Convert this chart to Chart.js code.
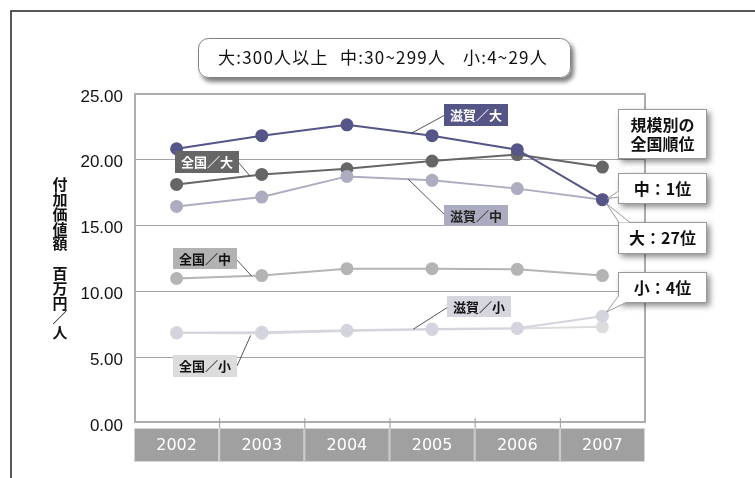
<!DOCTYPE html>
<html>
<head>
<meta charset="utf-8">
<script src="https://cdn.jsdelivr.net/npm/chart.js@4.4.0/dist/chart.umd.min.js"></script>
<style>
  html, body { margin: 0; padding: 0; background: #fff; }
  canvas { display: block; }
</style>
</head>
<body>
<canvas id="c" width="755" height="478"></canvas>
<script>
// 付加価値額（百万円／人）: 滋賀と全国、事業所規模別
const years = ['2002', '2003', '2004', '2005', '2006', '2007'];
const shigaLarge   = [20.84, 21.83, 22.66, 21.83, 20.77, 16.97];
const zenkokuLarge = [18.13, 18.89, 19.32, 19.90, 20.40, 19.45];
const shigaMid     = [16.46, 17.17, 18.74, 18.44, 17.81, 16.97];
const zenkokuMid   = [10.98, 11.20, 11.73, 11.73, 11.68, 11.20];
const shigaSmall   = [6.85, 6.90, 7.05, 7.15, 7.20, 8.12];
const zenkokuSmall = [6.85, 6.80, 7.00, 7.10, 7.18, 7.31];
const yTicks = [0, 5, 10, 15, 20, 25];

const seriesNames = ['滋賀／大', '全国／大', '滋賀／中', '全国／中', '滋賀／小', '全国／小'];
const rankTitle = ['規模別の', '全国順位'];
const rankLabels = ['中：1位', '大：27位', '小：4位'];
const sizeNotes = ['大:300人以上', '中:30~299人', '小:4~29人'];
const yTitle = '付加価値額　百万円／人';

const JP = '"Noto Sans CJK JP", "Noto Sans", sans-serif';

const colors = {
  shigaLarge: '#555588',
  zenkokuLarge: '#666666',
  shigaMid: '#adadc1',
  zenkokuMid: '#b4b4b4',
  shigaSmall: '#d4d4de',
  zenkokuSmall: '#dcdcdc'
};

function series(label, data, color) {
  return {
    label, data,
    borderColor: color, backgroundColor: color,
    pointBackgroundColor: color, pointBorderColor: color,
    borderWidth: 2, pointRadius: 5.5, pointHoverRadius: 5.5,
    tension: 0, fill: false
  };
}

// first dataset is painted on top
const datasets = [
  series(seriesNames[0], shigaLarge, colors.shigaLarge),
  series(seriesNames[2], shigaMid, colors.shigaMid),
  series(seriesNames[1], zenkokuLarge, colors.zenkokuLarge),
  series(seriesNames[3], zenkokuMid, colors.zenkokuMid),
  series(seriesNames[4], shigaSmall, colors.shigaSmall),
  series(seriesNames[5], zenkokuSmall, colors.zenkokuSmall)
];

// point on a series line between category i and i+1
function onLine(chart, data, i, t) {
  const x = chart.scales.x, y = chart.scales.y;
  const x0 = x.getPixelForValue(i), x1 = x.getPixelForValue(i + 1);
  const y0 = y.getPixelForValue(data[i]), y1 = y.getPixelForValue(data[i + 1]);
  return { x: x0 + (x1 - x0) * t, y: y0 + (y1 - y0) * t };
}
function pointAt(chart, data, i) {
  return { x: chart.scales.x.getPixelForValue(i), y: chart.scales.y.getPixelForValue(data[i]) };
}

function line(ctx, x0, y0, x1, y1, color, w) {
  ctx.save();
  ctx.strokeStyle = color; ctx.lineWidth = w;
  ctx.beginPath(); ctx.moveTo(x0, y0); ctx.lineTo(x1, y1); ctx.stroke();
  ctx.restore();
}

function tag(ctx, text, bx, by, bw, bh, bg, fg, from, to) {
  line(ctx, from.x, from.y, to.x, to.y, '#2a2a2a', 0.8);
  ctx.save();
  ctx.fillStyle = bg;
  ctx.fillRect(bx, by, bw, bh);
  ctx.fillStyle = fg;
  ctx.font = 'bold 13px ' + JP;
  ctx.textAlign = 'center';
  ctx.textBaseline = 'middle';
  ctx.fillText(text, bx + bw / 2, by + bh / 2 + 0.5);
  ctx.restore();
}

function shadowBox(ctx, x, y, w, h) {
  ctx.save();
  ctx.shadowColor = 'rgba(0,0,0,0.45)';
  ctx.shadowBlur = 6;
  ctx.shadowOffsetX = 3;
  ctx.shadowOffsetY = 3;
  ctx.fillStyle = '#fff';
  ctx.fillRect(x, y, w, h);
  ctx.restore();
  ctx.save();
  ctx.strokeStyle = '#9a9a9a';
  ctx.lineWidth = 1;
  ctx.strokeRect(x + 0.5, y + 0.5, w - 1, h - 1);
  ctx.restore();
}

function wedge(ctx, a, b, tip) {
  ctx.save();
  ctx.fillStyle = '#fff';
  ctx.beginPath();
  ctx.moveTo(a.x, a.y); ctx.lineTo(tip.x, tip.y); ctx.lineTo(b.x, b.y); ctx.closePath();
  ctx.fill();
  ctx.strokeStyle = '#9a9a9a';
  ctx.lineWidth = 1;
  ctx.beginPath();
  ctx.moveTo(a.x, a.y); ctx.lineTo(tip.x, tip.y); ctx.lineTo(b.x, b.y);
  ctx.stroke();
  ctx.restore();
}

function boxText(ctx, lines, cx, cy, size, lh) {
  ctx.save();
  ctx.fillStyle = '#111';
  ctx.font = 'bold ' + size + 'px ' + JP;
  ctx.textAlign = 'center';
  ctx.textBaseline = 'middle';
  const start = cy - (lines.length - 1) * lh / 2;
  lines.forEach((s, k) => ctx.fillText(s, cx, start + k * lh));
  ctx.restore();
}

const frame = {
  id: 'frame',
  beforeDraw(chart) {
    const ctx = chart.ctx;
    ctx.save();
    ctx.fillStyle = '#fff';
    ctx.fillRect(0, 0, chart.width, chart.height);
    ctx.restore();
  },
  beforeDatasetsDraw(chart) {
    const ctx = chart.ctx, a = chart.chartArea, x = chart.scales.x;
    const half = (x.getPixelForValue(1) - x.getPixelForValue(0)) / 2;

    // plot border
    ctx.save();
    ctx.strokeStyle = '#adadad';
    ctx.lineWidth = 2;
    ctx.strokeRect(a.left + 1, a.top, a.right - a.left - 1, a.bottom - a.top - 1);
    ctx.restore();

    // category band under the plot
    const bandTop = a.bottom + 5, bandH = 34;
    years.forEach((yr, i) => {
      const cx = x.getPixelForValue(i);
      ctx.save();
      ctx.fillStyle = '#a0a0a0';
      ctx.fillRect(cx - half, bandTop, half * 2, bandH);
      ctx.strokeStyle = '#d6d6d6';
      ctx.lineWidth = 1;
      ctx.strokeRect(cx - half + 0.5, bandTop + 0.5, half * 2 - 1, bandH - 1);
      ctx.fillStyle = '#fff';
      ctx.font = '16px "DejaVu Sans", sans-serif';
      ctx.textAlign = 'center';
      ctx.textBaseline = 'middle';
      ctx.fillText(yr, cx, bandTop + bandH / 2 + 1);
      ctx.restore();
      if (i > 0) line(ctx, cx - half + 0.5, a.bottom - 5, cx - half + 0.5, bandTop, '#9a9a9a', 1);
    });
  },
  afterDatasetsDraw(chart) {
    const ctx = chart.ctx;

    // series name tags with leader lines
    tag(ctx, seriesNames[1], 175, 151, 64, 22, '#666666', '#fff',
        { x: 238, y: 162 }, onLine(chart, zenkokuLarge, 0, 0.86));
    tag(ctx, seriesNames[0], 444, 104, 64, 22, '#555588', '#fff',
        { x: 445, y: 115 }, onLine(chart, shigaLarge, 2, 0.76));
    tag(ctx, seriesNames[2], 444, 205, 64, 21, '#acacc0', '#222',
        { x: 445, y: 215 }, onLine(chart, shigaMid, 2, 0.72));
    tag(ctx, seriesNames[3], 173, 248, 64, 21, '#b2b2b2', '#111',
        { x: 236, y: 259 }, onLine(chart, zenkokuMid, 0, 0.88));
    const zs = onLine(chart, zenkokuSmall, 0, 0.87);
    tag(ctx, seriesNames[5], 173, 355, 64, 22, '#dcdcdc', '#111',
        { x: 237, y: 366 }, { x: zs.x, y: zs.y + 2 });
    tag(ctx, seriesNames[4], 447, 296, 64, 21, '#d6d6de', '#111',
        { x: 448, y: 307 }, onLine(chart, shigaSmall, 2, 0.78));

    // ranking call-outs
    const bx = 618, bw = 89;
    shadowBox(ctx, bx, 109, bw, 50);
    boxText(ctx, rankTitle, bx + bw / 2, 134, 16, 19);

    const pm = pointAt(chart, shigaMid, 5);
    shadowBox(ctx, bx, 173, bw, 31);
    wedge(ctx, { x: bx + 0.5, y: 191 }, { x: bx + 0.5, y: 197 }, { x: pm.x + 5, y: pm.y - 1 });
    boxText(ctx, [rankLabels[0]], bx + bw / 2, 189, 16, 19);

    const pl = pointAt(chart, shigaLarge, 5);
    shadowBox(ctx, bx, 222, bw, 32);
    wedge(ctx, { x: bx + 1, y: 222.5 }, { x: bx + 12, y: 222.5 }, { x: pl.x + 4, y: pl.y + 4 });
    boxText(ctx, [rankLabels[1]], bx + bw / 2, 238, 16, 19);

    const ps = pointAt(chart, shigaSmall, 5);
    shadowBox(ctx, bx, 272, bw, 31);
    wedge(ctx, { x: bx + 0.5, y: 296 }, { x: bx + 8, y: 302.5 }, { x: ps.x + 4, y: ps.y - 4 });
    boxText(ctx, [rankLabels[2]], bx + bw / 2, 288, 16, 19);

    // size class note
    ctx.save();
    ctx.shadowColor = 'rgba(0,0,0,0.5)';
    ctx.shadowBlur = 4;
    ctx.shadowOffsetX = 3;
    ctx.shadowOffsetY = 4;
    ctx.fillStyle = '#fff';
    ctx.beginPath();
    ctx.roundRect(198, 38, 373, 40, 10);
    ctx.fill();
    ctx.restore();
    ctx.save();
    ctx.strokeStyle = '#808080';
    ctx.lineWidth = 1;
    ctx.beginPath();
    ctx.roundRect(198.5, 38.5, 372, 39, 10);
    ctx.stroke();
    ctx.fillStyle = '#111';
    ctx.font = '17px ' + JP;
    ctx.letterSpacing = '1.2px';
    ctx.textAlign = 'left';
    ctx.textBaseline = 'middle';
    const noteX = [218, 340, 463];
    sizeNotes.forEach((s, k) => ctx.fillText(s, noteX[k], 58));
    ctx.restore();

    // vertical axis title
    ctx.save();
    ctx.fillStyle = '#111';
    ctx.font = 'bold 15px ' + JP;
    ctx.textAlign = 'center';
    ctx.textBaseline = 'middle';
    Array.from(yTitle).forEach((ch, k) => ctx.fillText(ch, 60, 184.5 + k * 14.8));
    ctx.restore();

    // outer frame
    ctx.save();
    ctx.strokeStyle = '#222';
    ctx.lineWidth = 1.5;
    ctx.beginPath();
    ctx.moveTo(11, chart.height);
    ctx.lineTo(11, 11);
    ctx.lineTo(chart.width, 11);
    ctx.stroke();
    ctx.restore();
  }
};

new Chart(document.getElementById('c'), {
  type: 'line',
  data: { labels: years, datasets },
  options: {
    responsive: false,
    animation: false,
    devicePixelRatio: 1,
    layout: { padding: { top: 94, right: 110, bottom: 0, left: 0 } },
    plugins: { legend: { display: false }, tooltip: { enabled: false } },
    events: [],
    scales: {
      x: {
        type: 'category',
        offset: true,
        grid: { display: false },
        border: { display: false },
        ticks: { display: false },
        afterFit(s) { s.height = 55; }
      },
      y: {
        min: 0, max: 25,
        afterBuildTicks(s) { s.ticks = yTicks.map(v => ({ value: v })); },
        grid: {
          drawTicks: false,
          lineWidth: 1,
          color: c => (c.tick && (c.tick.value === 0 || c.tick.value === 25)) ? 'rgba(0,0,0,0)' : '#a3a3a3'
        },
        border: { display: false },
        ticks: {
          padding: 11,
          labelOffset: 3,
          color: '#111',
          font: { family: '"Liberation Sans", Arial, sans-serif', size: 17 },
          callback: v => Number(v).toFixed(2)
        },
        afterFit(s) { s.width = 134; }
      }
    }
  },
  plugins: [frame]
});
</script>
</body>
</html>
